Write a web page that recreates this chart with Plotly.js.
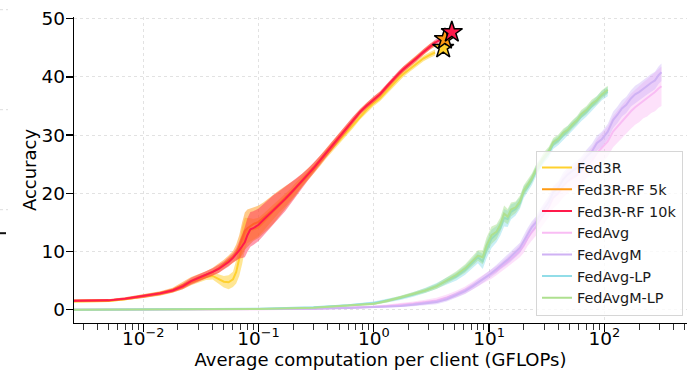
<!DOCTYPE html>
<html>
<head>
<meta charset="utf-8">
<script src="https://cdn.plot.ly/plotly-3.0.1.min.js"></script>
<style>
  html, body { margin: 0; padding: 0; background: #fff; }
  #chart { width: 687px; height: 371px; }
</style>
</head>
<body>
<div id="chart"></div>
<script>
// ---- Fed3R family (GFLOPs per client vs. accuracy) ----
const fed3rX = [0.0025,0.0035,0.005,0.007,0.01,0.014,0.018,0.022,0.026,0.03,0.035,0.04,0.045,0.05,0.055,0.06,0.064,0.068,0.072,0.076,0.08,0.085,0.09,0.1,0.11,0.12,0.135,0.15,0.17,0.19,0.21,0.24,0.27,0.3,0.34,0.38,0.43,0.5,0.57,0.66,0.76,0.87,1.0,1.13,1.3,1.47,1.65,1.8,2.05,2.35,2.7,3.07,3.4,3.8];

const fed3rMean = [1.4,1.4,1.5,1.8,2.2,2.7,3.2,3.9,4.7,5.2,5.6,5.8,5.3,4.8,4.7,5.2,6.5,8.8,11.0,13.0,13.6,13.7,13.8,14.2,15.0,15.8,16.9,17.8,18.8,19.8,20.8,22.0,23.0,24.0,25.3,26.4,27.6,29.0,30.4,31.8,33.2,34.4,35.5,36.3,37.6,38.8,39.8,40.5,41.4,42.3,43.2,43.8,44.2];
const fed3rStd = [0.15,0.15,0.2,0.2,0.25,0.3,0.3,0.4,0.5,0.5,0.5,0.6,0.8,1.0,1.2,1.3,2.0,3.0,3.2,2.8,2.2,2.0,1.8,1.6,1.5,1.4,1.3,1.2,1.1,1.0,1.0,0.9,0.8,0.7,0.7,0.6,0.6,0.6,0.6,0.6,0.5,0.5,0.5,0.5,0.5,0.5,0.5,0.5,0.5,0.5,0.5,0.5,0.5];

const rf5kMean = [1.55,1.55,1.6,1.9,2.35,2.85,3.4,4.2,5.0,5.5,6.0,6.5,7.1,7.8,8.4,9.1,9.8,10.8,12.2,13.5,14.0,14.4,14.7,15.1,15.7,16.4,17.3,18.2,19.2,20.1,21.0,22.3,23.4,24.4,25.7,26.9,28.2,29.7,31.0,32.6,34.0,35.1,36.1,37.0,38.3,39.5,40.5,41.3,42.3,43.3,44.3,45.2,45.7];
const rf5kStd = [0.2,0.2,0.2,0.25,0.3,0.3,0.35,0.5,0.6,0.6,0.6,0.7,0.8,0.8,0.9,1.0,1.4,2.0,2.8,3.2,3.2,3.0,2.9,2.8,2.7,2.6,2.5,2.3,2.0,1.7,1.4,1.1,0.9,0.8,0.7,0.7,0.6,0.6,0.6,0.6,0.5,0.5,0.5,0.5,0.5,0.5,0.5,0.5,0.5,0.5,0.5,0.5,0.5];

const rf10kMean = [1.55,1.55,1.6,1.9,2.3,2.8,3.3,4.0,4.9,5.4,6.0,6.5,7.0,7.6,8.2,8.9,9.5,10.2,10.9,11.6,12.8,13.8,14.0,14.6,15.4,16.1,17.2,18.0,19.0,20.0,20.9,22.2,23.3,24.3,25.6,26.8,28.1,29.6,31.0,32.6,34.0,35.1,36.2,37.0,38.4,39.6,40.6,41.3,42.2,43.2,44.3,45.2,45.9,46.4];
const rf10kStd = [0.2,0.2,0.2,0.25,0.3,0.3,0.35,0.5,0.6,0.6,0.6,0.6,0.7,0.7,0.8,0.8,1.0,1.4,2.0,2.6,2.9,3.0,2.9,2.8,2.7,2.6,2.5,2.3,2.1,1.8,1.5,1.2,1.0,0.9,0.8,0.7,0.7,0.6,0.6,0.6,0.5,0.5,0.5,0.5,0.5,0.5,0.5,0.5,0.5,0.5,0.5,0.5,0.5,0.5];

// final accuracy markers
const finalX = [4.0, 4.14, 4.75];
const finalAcc = [45.0, 46.5, 47.7];

// ---- FedAvg family ----
const avgX = [0.0025,0.03,0.1,0.3,0.6,1.0,1.3,1.7,2.2,2.8,3.5,4.3,5.2,6.2,7.2,8.0,8.8,9.5,10.5,11.6,12.5,13.5,14.5,15.5,17,18.5,20,21.5,23.5,25.5,27.5,30,33,36,40,44,48,53,58,63,70,78,86,95,107,119,130,142,155,170,185,200,218,235,255,275,295,313];

const fedAvgMean = [0,0.02,0.06,0.18,0.32,0.5,0.62,0.8,1.05,1.3,1.6,2.1,2.7,3.4,4.1,4.7,5.2,5.6,6.1,6.7,7.2,7.7,8.2,8.7,9.4,10.1,11.0,12.2,13.3,14.2,15.3,16.5,17.6,19.2,20.0,21.2,22.0,22.6,23.1,23.8,24.8,25.6,26.9,27.8,28.9,30.6,31.5,32.4,33.2,34.1,34.8,35.3,36.0,36.4,37.0,37.4,38.0,38.4];
const fedAvgStd = [0,0.03,0.05,0.1,0.15,0.2,0.25,0.3,0.35,0.4,0.45,0.5,0.55,0.6,0.65,0.7,0.7,0.75,0.8,0.8,0.8,0.9,0.9,1.0,1.0,1.1,1.2,1.3,1.4,1.5,1.5,1.6,1.7,1.8,1.8,1.9,2.0,2.0,2.1,2.2,2.2,2.3,2.4,2.5,2.6,2.7,2.8,2.8,2.9,3.0,3.0,3.1,3.1,3.2,3.2,3.3,3.3,3.4];

const fedAvgMMean = [0,0.02,0.05,0.15,0.28,0.4,0.5,0.65,0.85,1.05,1.3,1.8,2.5,3.2,4.0,4.6,5.2,5.7,6.3,7.0,7.6,8.1,8.6,9.1,9.9,10.6,11.8,13.0,14.2,15.0,16.2,17.3,18.5,20.2,21.0,22.4,23.2,23.9,24.4,25.1,26.3,27.2,28.6,29.3,30.6,32.6,33.5,34.6,35.2,36.3,37.0,37.4,38.0,38.5,39.0,39.4,40.3,40.8];
const fedAvgMStd = [0,0.02,0.03,0.08,0.12,0.15,0.18,0.2,0.25,0.3,0.35,0.4,0.45,0.5,0.55,0.6,0.6,0.65,0.7,0.7,0.7,0.8,0.8,0.8,0.9,0.9,1.0,1.0,1.0,1.0,1.0,1.1,1.1,1.1,1.1,1.2,1.2,1.2,1.2,1.2,1.2,1.3,1.3,1.3,1.3,1.4,1.4,1.4,1.4,1.4,1.5,1.5,1.5,1.5,1.5,1.5,1.5,1.5];

const fedAvgLPMean = [0,0.04,0.15,0.4,0.75,1.15,1.55,2.0,2.6,3.3,4.1,4.9,5.7,6.8,8.0,9.0,8.3,10.3,12.2,13.0,14.0,15.8,15.6,16.8,17.3,18.3,20.2,21.0,22.3,23.8,24.8,26.0,27.0,28.4,29.1,30.0,30.7,31.6,32.4,33.2,34.0,35.0,35.8,36.8,37.5];
const fedAvgLPStd = [0,0.03,0.06,0.12,0.18,0.25,0.3,0.35,0.4,0.45,0.5,0.6,0.7,0.8,0.9,1.0,1.3,1.5,1.6,1.4,1.3,1.5,1.4,1.3,1.1,1.0,1.0,0.9,0.9,0.9,0.8,0.8,0.8,0.8,0.8,0.8,0.8,0.8,0.8,0.8,0.8,0.8,0.8,0.8,0.8];

const fedAvgMLPMean = [0,0.03,0.12,0.35,0.65,1.0,1.5,2.1,2.7,3.3,4.0,5.0,6.0,7.1,8.4,9.3,9.0,11.0,12.8,13.4,14.6,16.5,16.0,17.2,17.6,18.6,20.5,21.4,22.6,24.1,25.0,26.3,27.3,28.8,29.4,30.4,30.9,31.9,32.6,33.6,34.3,35.4,36.0,37.0,37.8];
const fedAvgMLPStd = [0,0.03,0.05,0.1,0.15,0.2,0.25,0.3,0.35,0.4,0.45,0.5,0.6,0.7,0.8,0.9,1.2,1.4,1.5,1.3,1.2,1.4,1.3,1.2,1.0,1.0,0.9,0.9,0.8,0.8,0.8,0.8,0.7,0.7,0.7,0.7,0.7,0.7,0.7,0.7,0.7,0.7,0.7,0.7,0.7];

// ---- axis ticks ----
const majorTicks = [0.01, 0.1, 1, 10, 100];
const majorTickText = ['10<sup>\u22122</sup>', '10<sup>\u22121</sup>', '10<sup>0</sup>', '10<sup>1</sup>', '10<sup>2</sup>'];
const yTicks = [0, 10, 20, 30, 40, 50];

// minor log ticks at 2..9 of every decade in view
const minorTicks = [];
for (let e = -3; e <= 2; e++) {
  for (let m = 2; m <= 9; m++) {
    const v = m * Math.pow(10, e);
    if (v > 0.0025 && v < 520) minorTicks.push(v);
  }
}

const series = [
  {name: 'Fed3R',        x: fed3rX, mean: fed3rMean,     std: fed3rStd,     line: '#FFD12E', fill: 'rgba(255,205,40,0.5)'},
  {name: 'Fed3R-RF 5k',  x: fed3rX, mean: rf5kMean,      std: rf5kStd,      line: '#FF9A12', fill: 'rgba(255,150,20,0.5)'},
  {name: 'Fed3R-RF 10k', x: fed3rX, mean: rf10kMean,     std: rf10kStd,     line: '#FF1A4B', fill: 'rgba(255,30,75,0.45)'},
  {name: 'FedAvg',       x: avgX,   mean: fedAvgMean,    std: fedAvgStd,    line: '#F9BDF4', fill: 'rgba(248,170,240,0.35)'},
  {name: 'FedAvgM',      x: avgX,   mean: fedAvgMMean,   std: fedAvgMStd,   line: '#CFB2F4', fill: 'rgba(195,165,245,0.35)'},
  {name: 'FedAvg-LP',    x: avgX,   mean: fedAvgLPMean,  std: fedAvgLPStd,  line: '#92DDE8', fill: 'rgba(120,215,232,0.4)'},
  {name: 'FedAvgM-LP',   x: avgX,   mean: fedAvgMLPMean, std: fedAvgMLPStd, line: '#AEE08F', fill: 'rgba(160,222,130,0.45)'}
];

const traces = [];
series.forEach(s => {
  const n = s.mean.length;
  const xs = s.x.slice(0, n);
  const lo = s.mean.map((v, i) => v - s.std[i]);
  const hi = s.mean.map((v, i) => v + s.std[i]);
  traces.push({x: xs, y: lo, type: 'scatter', mode: 'lines', line: {width: 0, color: s.fill},
               showlegend: false, hoverinfo: 'skip'});
  traces.push({x: xs, y: hi, type: 'scatter', mode: 'lines', line: {width: 0, color: s.fill},
               fill: 'tonexty', fillcolor: s.fill, showlegend: false, hoverinfo: 'skip'});
  traces.push({x: xs, y: s.mean, type: 'scatter', mode: 'lines', name: s.name,
               line: {width: 2, color: s.line}});
});

// star markers at the final Fed3R accuracies
const starColors = ['#FFD12E', '#FF9A12', '#FF1A4B'];
finalX.forEach((fx, i) => {
  traces.push({x: [fx], y: [finalAcc[i]], type: 'scatter', mode: 'markers', showlegend: false,
               marker: {symbol: 'star', size: 16, color: starColors[i], line: {color: '#000', width: 1.5}}});
});

const axisFont = {family: 'DejaVu Sans', size: 18.5, color: '#000'};
const titleFont = {family: 'DejaVu Sans', size: 18, color: '#000'};

// plot-area helpers for the neighbouring panel's edge
const py = p => (323.3 - p) / 306;
const px = p => (p - 74) / 613;

const layout = {
  width: 687, height: 371,
  margin: {l: 74, r: 0, t: 17, b: 48, pad: 0},
  paper_bgcolor: '#ffffff', plot_bgcolor: '#ffffff',
  font: {family: 'DejaVu Sans', color: '#000'},
  showlegend: true,
  xaxis: {
    type: 'log', range: [-2.601, 2.717],
    tickmode: 'array', tickvals: majorTicks, ticktext: majorTickText,
    ticks: 'outside', ticklen: 8, tickwidth: 1.3, tickcolor: '#000',
    ticklabelstandoff: -10,
    showline: true, linecolor: '#000', linewidth: 1.3, mirror: false,
    showgrid: true, gridcolor: '#e2e2e2', gridwidth: 1, griddash: 'dot',
    zeroline: false, tickfont: axisFont,
    minor: {tickmode: 'array', tickvals: minorTicks, ticks: 'outside', ticklen: 6,
            tickwidth: 1, tickcolor: '#333', showgrid: false},
    title: {text: 'Average computation per client (GFLOPs)', font: titleFont, standoff: 6}
  },
  yaxis: {
    range: [-2.29, 50.3],
    tickmode: 'array', tickvals: yTicks,
    ticks: 'outside', ticklen: 7, tickwidth: 1.3, tickcolor: '#000',
    ticklabelstandoff: -3,
    showline: true, linecolor: '#000', linewidth: 1.3, mirror: false,
    showgrid: true, gridcolor: '#e2e2e2', gridwidth: 1, griddash: 'dot',
    zeroline: false, tickfont: axisFont,
    title: {text: 'Accuracy', font: titleFont, standoff: 0}
  },
  legend: {
    x: 0.9935, xanchor: 'right', y: 0.024, yanchor: 'bottom',
    traceorder: 'normal',
    bgcolor: 'rgba(255,255,255,0.8)', bordercolor: '#d6d6d6', borderwidth: 1,
    font: {family: 'DejaVu Sans', size: 14.4, color: '#1a1a1a'},
    tracegroupgap: 0, itemwidth: 30
  },
  shapes: [
    {type: 'line', xref: 'paper', yref: 'paper', x0: px(0), x1: px(8), y0: py(10), y1: py(10),
     line: {color: '#dddddd', width: 1, dash: 'dot'}},
    {type: 'line', xref: 'paper', yref: 'paper', x0: px(0), x1: px(8), y0: py(110), y1: py(110),
     line: {color: '#dddddd', width: 1, dash: 'dot'}},
    {type: 'line', xref: 'paper', yref: 'paper', x0: px(0), x1: px(8), y0: py(210), y1: py(210),
     line: {color: '#dddddd', width: 1, dash: 'dot'}},
    {type: 'line', xref: 'paper', yref: 'paper', x0: px(0), x1: px(6), y0: py(233.5), y1: py(233.5),
     line: {color: '#111111', width: 2}}
  ]
};

Plotly.newPlot('chart', traces, layout, {displayModeBar: false, staticPlot: true});
</script>
</body>
</html>
